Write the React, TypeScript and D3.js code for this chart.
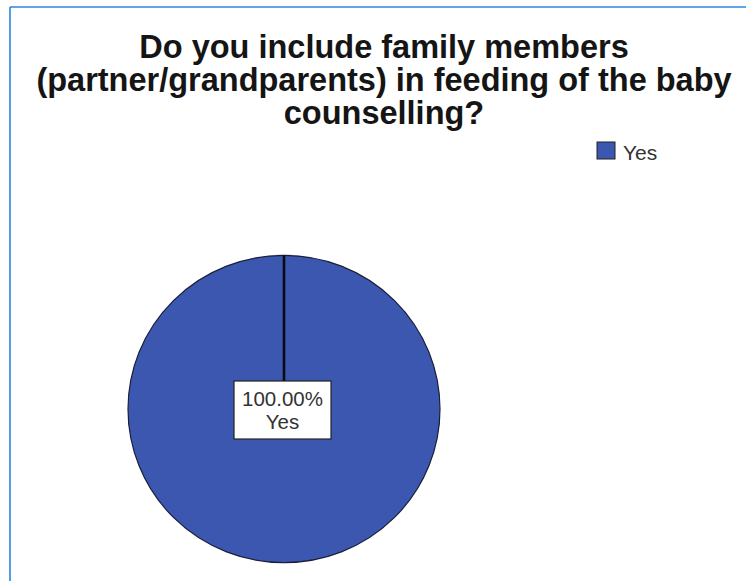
import React from "react";
import * as d3 from "d3";

const categories = ["Yes"];
const values = [100];
const percentLabels = ["100.00%"];
const titleLines = [
  "Do you include family members",
  "(partner/grandparents) in feeding of the baby",
  "counselling?",
];
const colors = ["#3c57b0"];

export default function App() {
  const W = 746, H = 581;
  const cx = 284, cy = 409, r = 156;
  const pie = d3.pie<number>().sort(null).startAngle(0).endAngle(2 * Math.PI);
  const arcs = pie(values);
  const arcGen = d3.arc<d3.PieArcDatum<number>>().innerRadius(0).outerRadius(r);
  const color = d3.scaleOrdinal<string, string>().domain(categories).range(colors);
  const font = "'Liberation Sans', Arial, sans-serif";
  return (
    <svg width={W} height={H} style={{ position: "absolute", left: 0, top: 0, background: "#fff" }}>
      <rect x={0} y={0} width={W} height={H} fill="#fff" />
      <line x1={10} y1={7} x2={W} y2={7} stroke="#2a86dc" strokeWidth={1.6} />
      <line x1={10} y1={7} x2={10} y2={H} stroke="#2a86dc" strokeWidth={1.6} />
      {titleLines.map((t, i) => (
        <text key={i} x={384} y={58 + i * 33} textAnchor="middle" fontFamily={font}
          fontWeight="bold" fontSize={32.5} fill="#151515">{t}</text>
      ))}
      <g transform={`translate(${cx},${cy}) scale(1,0.985)`}>
        {arcs.map((a, i) => (
          <path key={i} d={arcGen(a) || ""} fill={color(categories[i])} stroke="#1b1f3a" strokeWidth={1.2} />
        ))}
        {arcs.map((a, i) => {
          const ang = a.startAngle - Math.PI / 2;
          return (
            <line key={"l" + i} x1={0} y1={0} x2={r * Math.cos(ang)} y2={r * Math.sin(ang)}
              stroke="#0a0a14" strokeWidth={2.6} />
          );
        })}
      </g>
      {arcs.map((a, i) => (
        <g key={"lab" + i}>
          <rect x={234} y={381} width={97} height={58} fill="#fff" stroke="#222" strokeWidth={1.2} />
          <text x={282.5} y={406} textAnchor="middle" fontFamily={font} fontSize={20.5} fill="#333">{percentLabels[i]}</text>
          <text x={282.5} y={429} textAnchor="middle" fontFamily={font} fontSize={20.5} fill="#333">{categories[i]}</text>
        </g>
      ))}
      {categories.map((c, i) => (
        <g key={"leg" + i}>
          <rect x={597} y={142 + i * 22} width={18} height={17} fill={color(c)} stroke="#222" strokeWidth={1} />
          <text x={623} y={160 + i * 22} fontFamily={font} fontSize={21} fill="#333">{c}</text>
        </g>
      ))}
    </svg>
  );
}
